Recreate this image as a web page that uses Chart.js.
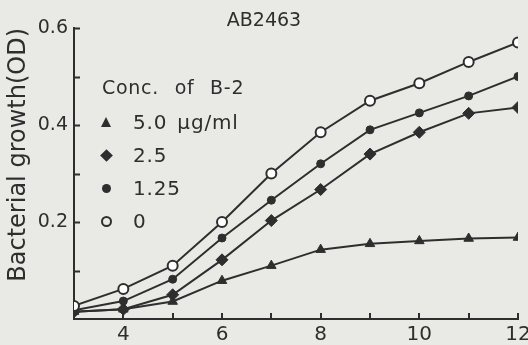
<!DOCTYPE html>
<html>
<head>
<meta charset="utf-8">
<script src="https://cdn.jsdelivr.net/npm/chart.js@4"></script>
<style>
  body { margin: 0; background: #e9e9e5; }
  #wrap { position: relative; width: 528px; height: 345px; }
  #legend { position: absolute; left: 100px; top: 76px; font-family: "DejaVu Sans"; color: #2e2e2e; }
  #legend .head { font-size: 19px; letter-spacing: 0.7px; word-spacing: 9px; margin-left: 2px; height: 30px; }
  #legend .row { position: relative; height: 33px; line-height: 33px; font-size: 20px; padding-left: 33px; letter-spacing: 0.8px; word-spacing: 3px; }
  #legend .mk { position: absolute; box-sizing: border-box; }
  .tri { left: 1px; top: 11px; width: 0; height: 0; border-left: 5.5px solid transparent; border-right: 5.5px solid transparent; border-bottom: 10px solid #2e2e2e; }
  .dia { left: 2px; top: 12px; width: 9px; height: 9px; background: #2e2e2e; transform: rotate(45deg); }
  .dot { left: 2px; top: 12px; width: 9px; height: 9px; border-radius: 50%; background: #2e2e2e; }
  .ring { left: 1px; top: 11px; width: 11px; height: 11px; border-radius: 50%; border: 2px solid #2e2e2e; }
</style>
</head>
<body>
<div id="wrap">
  <canvas id="grafica" width="528" height="345"></canvas>
  <div id="legend">
    <div class="head">Conc. of B-2</div>
    <div class="row"><span class="mk tri"></span>5.0 μg/ml</div>
    <div class="row"><span class="mk dia"></span>2.5</div>
    <div class="row"><span class="mk dot"></span>1.25</div>
    <div class="row"><span class="mk ring"></span>0</div>
  </div>
</div>
<script>
// tiempo de cultivo (eje x)
var tiempos = [3, 4, 5, 6, 7, 8, 9, 10, 11, 12];

// crecimiento (OD) para cada concentracion de B-2
var conc0   = [0.027, 0.062, 0.110, 0.200, 0.300, 0.385, 0.450, 0.486, 0.530, 0.570];
var conc125 = [0.018, 0.037, 0.082, 0.167, 0.245, 0.320, 0.390, 0.425, 0.460, 0.500];
var conc25  = [0.015, 0.020, 0.050, 0.122, 0.203, 0.267, 0.340, 0.385, 0.424, 0.436];
var conc50  = [0.015, 0.020, 0.036, 0.079, 0.110, 0.143, 0.155, 0.161, 0.166, 0.168];

var etiquetasX = [4, 6, 8, 10, 12];
var etiquetasY = [0.2, 0.4, 0.6];

var tinta = '#2e2e2e';

function armarPuntos(valores){
    var puntos = [];
    for(var i = 0; i < tiempos.length; i++){
        puntos.push({x: tiempos[i], y: valores[i]});
    }
    return puntos;
}

function serie(nombre, valores, estilo, radio, relleno){
    return {
        label: nombre,
        data: armarPuntos(valores),
        borderColor: tinta,
        borderWidth: 2,
        pointStyle: estilo,
        pointRadius: radio,
        pointBorderWidth: relleno ? 1 : 2,
        pointBackgroundColor: relleno ? tinta : '#ffffff',
        pointBorderColor: tinta,
        tension: 0
    };
}

// marcas cortas hacia adentro sobre los ejes
var marcasInternas = {
    id: 'marcasInternas',
    afterDraw: function(chart){
        var ctx = chart.ctx;
        var area = chart.chartArea;
        var sx = chart.scales.x;
        var sy = chart.scales.y;
        ctx.save();
        ctx.strokeStyle = tinta;
        ctx.lineWidth = 2;
        ctx.beginPath();
        sy.ticks.forEach(function(t){
            if(t.value <= 0) return;
            var py = Math.round(sy.getPixelForValue(t.value)) + 0.5;
            ctx.moveTo(area.left, py);
            ctx.lineTo(area.left + 6, py);
        });
        sx.ticks.forEach(function(t){
            if(t.value <= 3) return;
            var px = Math.round(sx.getPixelForValue(t.value));
            ctx.moveTo(px, area.bottom);
            ctx.lineTo(px, area.bottom - 6);
        });
        ctx.stroke();
        ctx.restore();
    }
};

var ctx = document.getElementById('grafica').getContext('2d');

var grafica = new Chart(ctx, {
    type: 'line',
    data: {
        datasets: [
            serie('0', conc0, 'circle', 5, false),
            serie('1.25', conc125, 'circle', 4, true),
            serie('2.5', conc25, 'rectRot', 6, true),
            serie('5.0 μg/ml', conc50, 'triangle', 5.5, true)
        ]
    },
    options: {
        responsive: false,
        animation: false,
        layout: { padding: 0 },
        plugins: {
            legend: { display: false },
            tooltip: { enabled: false },
            title: {
                display: true,
                text: 'AB2463',
                color: tinta,
                font: { family: 'DejaVu Sans', size: 19, weight: 'normal', lineHeight: 1 },
                padding: { top: 12, bottom: -3 }
            }
        },
        scales: {
            x: {
                type: 'linear',
                min: 3,
                max: 12,
                grid: { display: false, drawTicks: false },
                border: { display: true, color: tinta, width: 2 },
                ticks: {
                    stepSize: 1,
                    padding: 4,
                    color: tinta,
                    font: { family: 'DejaVu Sans', size: 20 },
                    autoSkip: false,
                    maxRotation: 0,
                    callback: function(v){
                        return etiquetasX.indexOf(v) >= 0 ? String(v) : '';
                    }
                },
                afterFit: function(s){
                    s.height = 26;
                    s.paddingRight = 10;
                }
            },
            y: {
                min: 0,
                max: 0.6,
                grid: { display: false, drawTicks: false },
                border: { display: true, color: tinta, width: 2 },
                ticks: {
                    stepSize: 0.1,
                    padding: 6,
                    color: tinta,
                    font: { family: 'DejaVu Sans', size: 19 },
                    autoSkip: false,
                    callback: function(v){
                        var r = Math.round(v * 10) / 10;
                        return etiquetasY.indexOf(r) >= 0 ? r.toFixed(1) : '';
                    }
                },
                title: {
                    display: true,
                    text: 'Bacterial growth(OD)',
                    align: 'end',
                    color: tinta,
                    font: { family: 'DejaVu Sans', size: 24 },
                    padding: { top: 4, bottom: 0 }
                },
                afterFit: function(s){
                    s.width = 74;
                }
            }
        }
    },
    plugins: [marcasInternas]
});
</script>
</body>
</html>
